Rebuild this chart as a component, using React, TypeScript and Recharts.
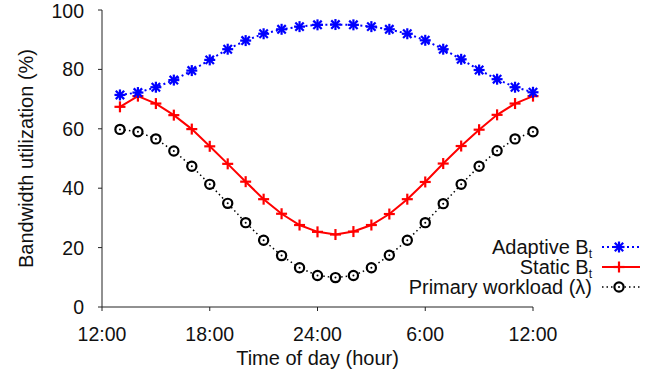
import { LineChart, Line, XAxis, YAxis, Legend } from "recharts"

if (typeof document !== "undefined") document.body.style.margin = "0"

// hour offsets from 12:00 (noon) of the first day
const hours = [1, 2, 3, 4, 5, 6, 7, 8, 9, 10, 11, 12, 13, 14, 15, 16, 17, 18, 19, 20, 21, 22, 23, 24]
const adaptive = [71.4, 72.2, 74.0, 76.4, 79.6, 83.2, 86.8, 89.7, 92.0, 93.5, 94.4, 95.0, 95.1, 95.0, 94.4, 93.5, 92.0, 89.8, 86.8, 83.4, 79.8, 76.7, 74.0, 72.3]
const staticBt = [67.4, 71.0, 68.5, 64.6, 59.9, 54.1, 48.2, 42.2, 36.3, 31.4, 27.6, 25.3, 24.4, 25.4, 27.6, 31.3, 36.3, 42.1, 48.3, 54.2, 59.7, 64.7, 68.5, 71.0]
const primary = [59.8, 59.0, 56.6, 52.5, 47.4, 41.3, 34.9, 28.4, 22.5, 17.3, 13.2, 10.6, 9.9, 10.6, 13.2, 17.4, 22.5, 28.4, 34.8, 41.3, 47.4, 52.6, 56.6, 59.0]

const xTicks = [0, 6, 12, 18, 24]
const xTickLabels = ["12:00", "18:00", "24:00", "6:00", "12:00"]
const yTicks = [0, 20, 40, 60, 80, 100]

const FONT = '"Liberation Sans", Arial, Helvetica, sans-serif'
const BLUE = "#0000ff"
const RED = "#ff0000"

const data = hours.map((h, i) => ({
  hour: h,
  adaptive: adaptive[i],
  staticBt: staticBt[i],
  primary: primary[i],
}))

function Star({ cx, cy }: { cx?: number; cy?: number }) {
  if (cx == null || cy == null) return null
  const s = 5.5
  const d = 4.2
  return (
    <g stroke={BLUE} strokeWidth={2.2}>
      <line x1={cx - s} y1={cy} x2={cx + s} y2={cy} />
      <line x1={cx} y1={cy - s} x2={cx} y2={cy + s} />
      <line x1={cx - d} y1={cy - d} x2={cx + d} y2={cy + d} />
      <line x1={cx - d} y1={cy + d} x2={cx + d} y2={cy - d} />
    </g>
  )
}

function Plus({ cx, cy }: { cx?: number; cy?: number }) {
  if (cx == null || cy == null) return null
  const s = 5.5
  return (
    <g stroke={RED} strokeWidth={2.2}>
      <line x1={cx - s} y1={cy} x2={cx + s} y2={cy} />
      <line x1={cx} y1={cy - s} x2={cx} y2={cy + s} />
    </g>
  )
}

function Ring({ cx, cy }: { cx?: number; cy?: number }) {
  if (cx == null || cy == null) return null
  return (
    <g>
      <circle cx={cx} cy={cy} r={4.6} fill="#fff" stroke="#000" strokeWidth={2.2} />
      <circle cx={cx} cy={cy} r={1} fill="#000" />
    </g>
  )
}

const legendRows = [
  { label: "Adaptive B", sub: "t", color: BLUE, dash: "2 3", width: 2, Mark: Star },
  { label: "Static B", sub: "t", color: RED, dash: undefined, width: 2, Mark: Plus },
  { label: "Primary workload (λ)", sub: "", color: "#000", dash: "1.5 3", width: 1.5, Mark: Ring },
]

function renderLegend() {
  return (
    <div style={{ fontFamily: FONT, fontSize: 20, color: "#111" }}>
      {legendRows.map((r) => (
        <div key={r.label} style={{ display: "flex", justifyContent: "flex-end", alignItems: "center", height: 20 }}>
          <span style={{ lineHeight: "20px", height: 20, whiteSpace: "nowrap", display: "inline-block" }}>
            {r.label}
            {r.sub && (
              <span
                style={{
                  fontSize: 12,
                  display: "inline-block",
                  lineHeight: "9px",
                  height: 9,
                  position: "relative",
                  top: 4,
                }}
              >
                {r.sub}
              </span>
            )}
          </span>
          <svg width={40} height={20} style={{ marginLeft: 8 }}>
            <line x1={2} y1={10} x2={40} y2={10} stroke={r.color} strokeWidth={r.width} strokeDasharray={r.dash} />
            <r.Mark cx={19} cy={10} />
          </svg>
        </div>
      ))}
    </div>
  )
}

export default function App() {
  return (
    <div style={{ width: 660, height: 379, background: "#fff" }}>
      <LineChart width={660} height={379} data={data} margin={{ top: 10, right: 127, left: 0, bottom: 0 }}>
        <XAxis
          dataKey="hour"
          type="number"
          domain={[0, 24]}
          ticks={xTicks}
          tickFormatter={(v: number) => xTickLabels[xTicks.indexOf(v)] ?? ""}
          height={72}
          tickSize={4}
          tickMargin={16}
          stroke="#222"
          tick={{ fill: "#111", fontSize: 19.5, fontFamily: FONT }}
          label={{ value: "Time of day (hour)", position: "insideBottom", offset: 14, fill: "#111", fontSize: 20, fontFamily: FONT }}
        />
        <YAxis
          type="number"
          domain={[0, 100]}
          ticks={yTicks}
          width={102}
          tickSize={4}
          tickMargin={14}
          stroke="#222"
          tick={{ fill: "#111", fontSize: 19.5, fontFamily: FONT }}
          label={{
            value: "Bandwidth utilization (%)",
            angle: -90,
            position: "insideLeft",
            offset: 26,
            fill: "#111",
            fontSize: 20,
            fontFamily: FONT,
            style: { textAnchor: "middle" },
          }}
        />
        <Legend
          layout="vertical"
          align="center"
          verticalAlign="middle"
          content={renderLegend}
          wrapperStyle={{ left: "auto", right: 20, top: 237, width: "auto" }}
        />
        <Line
          dataKey="primary"
          stroke="#000"
          strokeWidth={1.5}
          strokeDasharray="1.5 3"
          isAnimationActive={false}
          dot={(p: any) => <Ring key={`p-${p.index}`} cx={p.cx} cy={p.cy} />}
          activeDot={false}
        />
        <Line
          dataKey="staticBt"
          stroke={RED}
          strokeWidth={2}
          isAnimationActive={false}
          dot={(p: any) => <Plus key={`s-${p.index}`} cx={p.cx} cy={p.cy} />}
          activeDot={false}
        />
        <Line
          dataKey="adaptive"
          stroke={BLUE}
          strokeWidth={2}
          strokeDasharray="2 3"
          isAnimationActive={false}
          dot={(p: any) => <Star key={`a-${p.index}`} cx={p.cx} cy={p.cy} />}
          activeDot={false}
        />
      </LineChart>
    </div>
  )
}
